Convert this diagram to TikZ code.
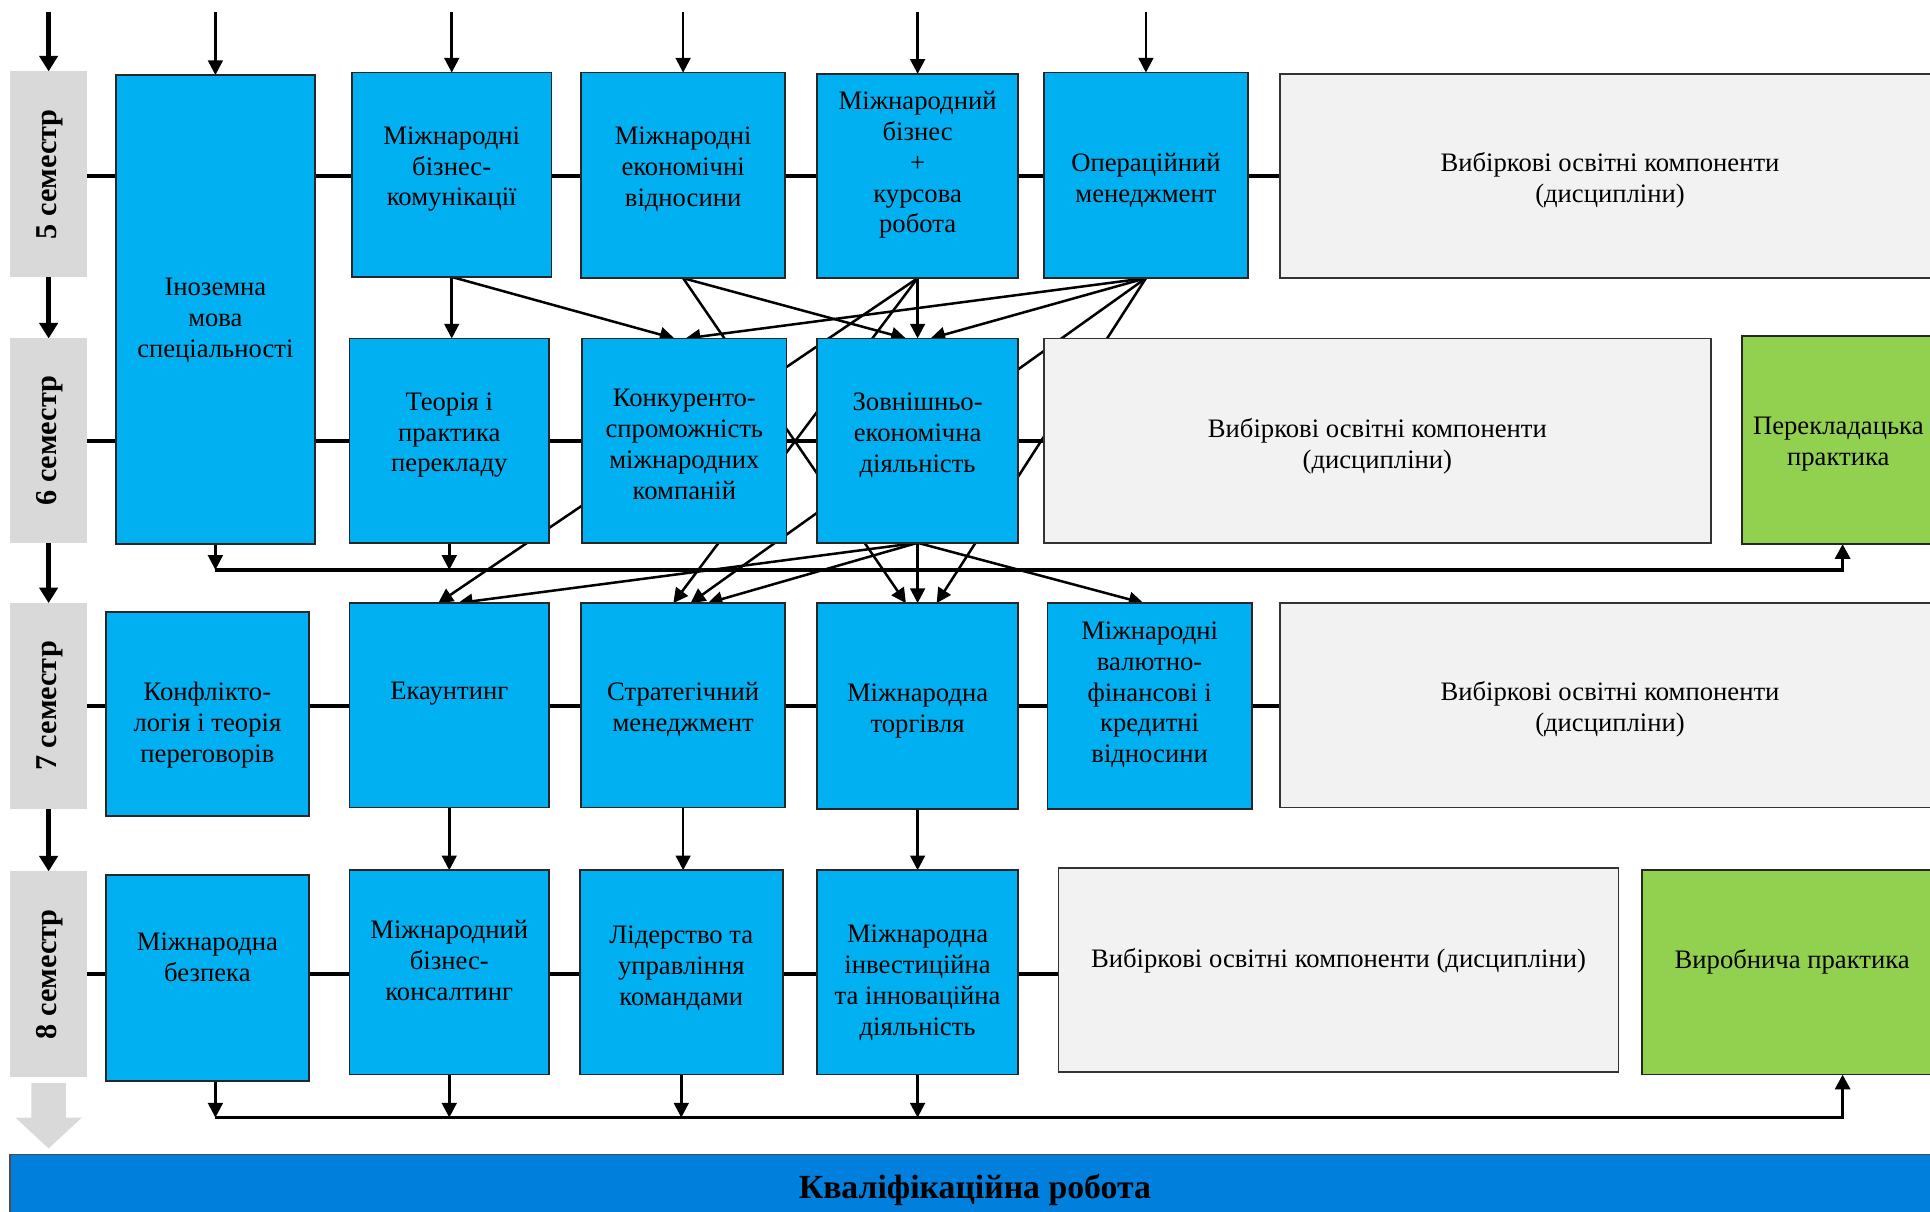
\documentclass[tikz,border=0pt]{standalone}
\usepackage{fontspec}
\setmainfont{Liberation Serif}
\usetikzlibrary{arrows.meta,backgrounds,calc}
\definecolor{cblue}{HTML}{00B0F0}
\definecolor{cgray}{HTML}{F2F2F2}
\definecolor{cgreen}{HTML}{92D050}
\definecolor{csem}{HTML}{D9D9D9}
\definecolor{cbar}{HTML}{0080DC}
% style, name, x1, y1, x2, y2, text centre y, text
\newcommand\bx[8]{%
  \node[#1, minimum width={(#5-#3)*0.025cm}, minimum height={(#6-#4)*0.025cm}] (#2) at ({(#3+#5)/2},{(#4+#6)/2}) {};
  \node[txt] (#2t) at ({(#3+#5)/2},{#7+2.5}) {#8};}
\begin{document}
\begin{tikzpicture}[x=0.025cm,y=-0.025cm,
  box/.style={draw=black!85,line width=1pt,fill=cblue,inner sep=0,outer sep=0},
  elect/.style={draw=black!80,line width=0.9pt,fill=cgray,inner sep=0,outer sep=0},
  pract/.style={draw=black!85,line width=1pt,fill=cgreen,inner sep=0,outer sep=0},
  barbox/.style={draw=black!70,line width=0.9pt,fill=cbar,inner sep=0,outer sep=0},
  sem/.style={fill=csem,inner sep=0,outer sep=0},
  txt/.style={align=center,inner sep=0,font=\fontsize{15.4}{17.8}\selectfont},
  semtxt/.style={font=\fontsize{17.5}{20}\selectfont\bfseries,inner sep=0,rotate=90},
  bartxt/.style={font=\fontsize{19.5}{22}\selectfont\bfseries,inner sep=0},
  arr/.style={line width=1.45pt,-{Triangle[length=8.5pt,width=8.5pt]}},
  semarr/.style={line width=3.1pt,-{Triangle[length=9pt,width=10.5pt]}},
  rowline/.style={line width=2.3pt},
  bus/.style={line width=2.1pt,-{Triangle[length=8.5pt,width=8.5pt]}}]
\useasboundingbox (0,0) rectangle (1568,984);

% semester labels
\node[sem, minimum width={63*0.025cm}, minimum height={167*0.025cm}] (s5) at (39.5,141.5) {};
\node[semtxt] (s5t) at ([xshift=0.03cm]s5.center) {5 семестр};
\node[sem, minimum width={63*0.025cm}, minimum height={166*0.025cm}] (s6) at (39.5,358) {};
\node[semtxt] (s6t) at ([xshift=0.03cm]s6.center) {6 семестр};
\node[sem, minimum width={63*0.025cm}, minimum height={167*0.025cm}] (s7) at (39.5,573.5) {};
\node[semtxt] (s7t) at ([xshift=0.03cm]s7.center) {7 семестр};
\node[sem, minimum width={63*0.025cm}, minimum height={167*0.025cm}] (s8) at (39.5,791.5) {};
\node[semtxt] (s8t) at ([xshift=0.03cm]s8.center) {8 семестр};

% row 5
\bx{box}{ino}{94}{61}{256}{442}{258}{Іноземна\\мова\\спеціальності}
\bx{box}{mbk}{286}{59}{448}{225}{135}{Міжнародні\\бізнес-\\комунікації}
\bx{box}{mev}{472}{59}{638}{226}{135}{Міжнародні\\економічні\\відносини}
\bx{box}{mb}{664}{60}{827}{226}{131.5}{Міжнародний\\бізнес\\+\\курсова\\робота}
\bx{box}{om}{848}{59}{1014}{226}{144}{Операційний\\менеджмент}
\bx{elect}{el5}{1040}{60}{1576}{226}{144}{Вибіркові освітні компоненти\\(дисципліни)}

% row 6
\bx{box}{tpp}{284}{275}{446}{441}{351}{Теорія і\\практика\\перекладу}
\bx{box}{kon}{473}{275}{639}{441}{358.5}{Конкуренто-\\спроможність\\міжнародних\\компаній}
\bx{box}{zed}{664}{275}{827}{441}{351}{Зовнішньо-\\економічна\\діяльність}
\bx{elect}{el6}{848}{275}{1390}{441}{360}{Вибіркові освітні компоненти\\(дисципліни)}
\bx{pract}{per}{1415}{273}{1572}{442}{358.5}{Перекладацька\\практика}

% row 7
\bx{box}{kfl}{86}{497}{251}{663}{586.5}{Конфлікто-\\логія і теорія\\переговорів}
\bx{box}{eka}{284}{490}{446}{656}{561}{Екаунтинг}
\bx{box}{stm}{472}{490}{638}{656}{574}{Стратегічний\\менеджмент}
\bx{box}{mt}{664}{490}{827}{657}{575}{Міжнародна\\торгівля}
\bx{box}{mvf}{851}{490}{1017}{657}{562}{Міжнародні\\валютно-\\фінансові і\\кредитні\\відносини}
\bx{elect}{el7}{1040}{490}{1576}{656}{574}{Вибіркові освітні компоненти\\(дисципліни)}

% row 8
\bx{box}{bez}{86}{711}{251}{878}{775.5}{Міжнародна\\безпека}
\bx{box}{kons}{284}{707}{446}{873}{778}{Міжнародний\\бізнес-\\консалтинг}
\bx{box}{lid}{471}{707}{636}{873}{784}{Лідерство та\\управління\\командами}
\bx{box}{mii}{664}{707}{827}{873}{796}{Міжнародна\\інвестиційна\\та інноваційна\\діяльність}
\bx{elect}{el8}{860}{705}{1315}{871}{778}{Вибіркові освітні компоненти (дисципліни)}
\bx{pract}{vyr}{1334}{707}{1578}{873}{779}{Виробнича практика}

% final work bar
\node[barbox, minimum width={1572*0.025cm}, minimum height={57*0.025cm}] (kv) at (794,966.5) {};
\node[bartxt] (kvt) at (792,967) {Кваліфікаційна робота};

% free ends
\coordinate (top0) at (39.5,10);
\coordinate (top) at (0,10);
\coordinate (b6l) at (175,463);
\coordinate (b6r) at (1497,463);
\coordinate (b8l) at (175,908);
\coordinate (b8r) at (1497,908);

\begin{pgfonlayer}{background}
\fill[white] (0,0) rectangle (1568,984);
% row lines
\draw[rowline] (s5.east |- el5.west) -- (el5.west);
\draw[rowline] (s6.east) -- (s6.east -| el6.west);
\draw[rowline] (s7.east) -- (s7.east -| el7.west);
\draw[rowline] (s8.east) -- (s8.east -| el8.west);
% semester arrows
\draw[semarr] (top0) -- (s5.north);
\draw[semarr] (s5.south) -- (s6.north);
\draw[semarr] (s6.south) -- (s7.north);
\draw[semarr] (s7.south) -- (s8.north);
\fill[csem] ($(s8.south)+(-14,5)$) -- ++(28,0) -- ++(0,28) -- ++(13,0) -- ++(-27,25) -- ++(-27,-25) -- ++(13,0) -- cycle;
% incoming arrows from top
\draw[arr] (ino.north |- top) -- (ino.north);
\draw[arr] (mbk.north |- top) -- (mbk.north);
\draw[arr] (mev.north |- top) -- (mev.north);
\draw[arr] (mb.north |- top) -- (mb.north);
\draw[arr] (om.north |- top) -- (om.north);
% 5 -> 6
\draw[arr] (mbk.south) -- (mbk.south |- tpp.north);
\draw[arr] (mbk.south) -- ($(kon.north)+(-8,0)$);
\draw[arr] (om.south) -- ($(kon.north)+(1,0)$);
\draw[arr] (mev.south) -- ($(zed.north)+(-9.5,0)$);
\draw[arr] (mb.south) -- (zed.north);
\draw[arr] (om.south) -- ($(zed.north)+(10.5,0)$);
% 5 -> 7
\draw[arr] (mev.south) -- ($(mt.north)+(-9.5,0)$);
\draw[arr] (mb.south) -- ($(eka.north)+(-9,0)$);
\draw[arr] (mb.south) -- ($(stm.north)+(-8,0)$);
\draw[arr] (om.south) -- ($(stm.north)+(6,0)$);
\draw[arr] (om.south) -- ($(mt.north)+(15.5,0)$);
% 6 -> 7
\draw[arr] (zed.south) -- ($(eka.north)+(7,0)$);
\draw[arr] (zed.south) -- ($(stm.north)+(20,0)$);
\draw[arr] (zed.south) -- (mt.north);
\draw[arr] (zed.south) -- ($(mvf.north)+(-5,0)$);
% 7 -> 8
\draw[arr] (eka.south) -- (eka.south |- kons.north);
\draw[arr] (stm.south) -- (stm.south |- lid.north);
\draw[arr] (mt.south) -- (mt.south |- mii.north);
% bus after semester 6
\draw[arr] (ino.south) -- (ino.south |- b6l);
\draw[arr] (tpp.south) -- (tpp.south |- b6l);
\draw[bus] (b6l) -- (b6r) -- (b6r |- per.south);
% bus after semester 8
\draw[arr] (b8l |- bez.south) -- (b8l);
\draw[arr] (kons.south) -- (kons.south |- b8l);
\draw[arr] (lid.south) -- (lid.south |- b8l);
\draw[arr] (mii.south) -- (mii.south |- b8l);
\draw[bus] (b8l) -- (b8r) -- (b8r |- vyr.south);
\end{pgfonlayer}
\end{tikzpicture}
\end{document}
